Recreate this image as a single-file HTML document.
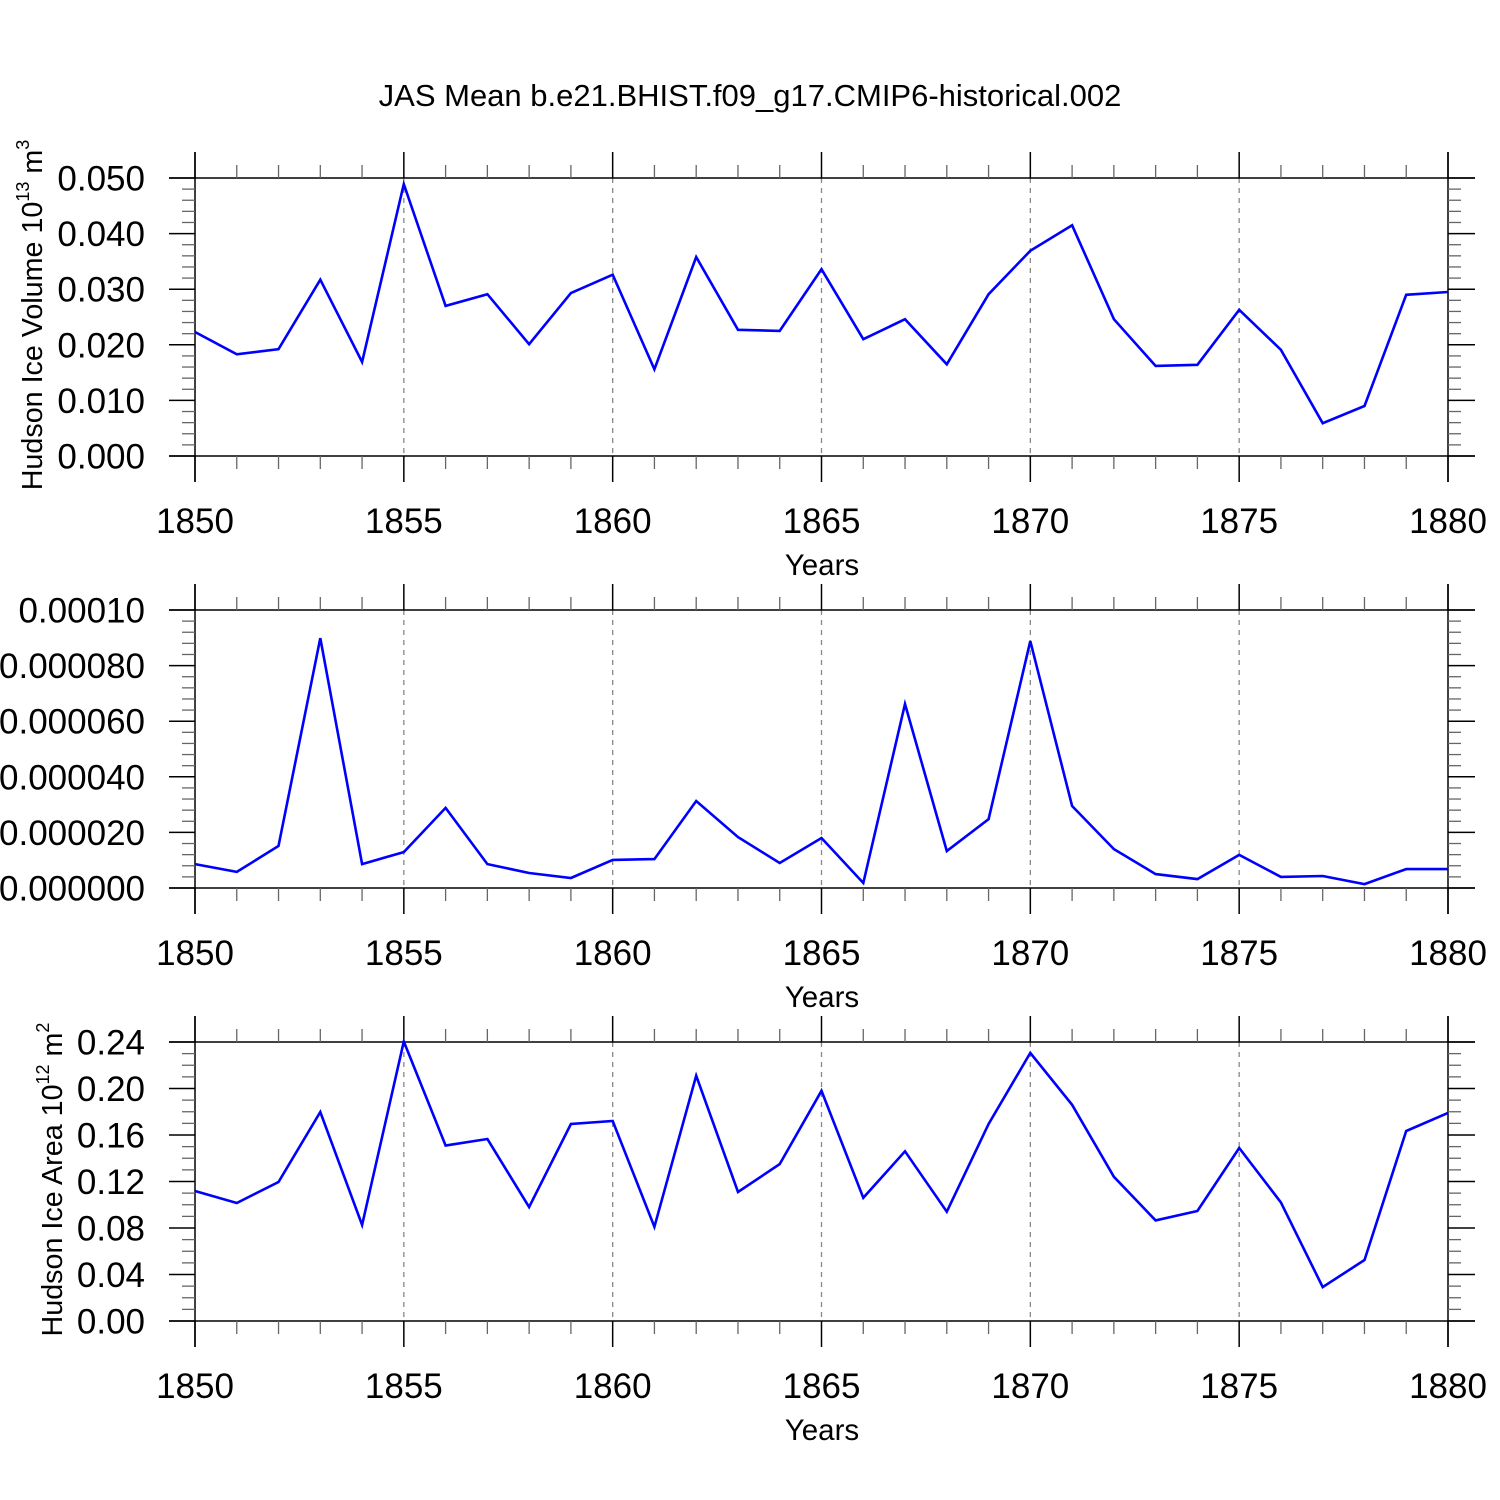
<!DOCTYPE html>
<html><head><meta charset="utf-8"><style>
html,body{margin:0;padding:0;background:#fff;}
svg{display:block;font-family:"Liberation Sans",sans-serif;}
</style></head><body>
<svg id="chart" width="1500" height="1500" viewBox="0 0 1500 1500" xmlns="http://www.w3.org/2000/svg">
<text x="750" y="106" font-size="31" text-anchor="middle">JAS Mean b.e21.BHIST.f09_g17.CMIP6-historical.002</text>
</svg>
<script>
const years = [1850,1851,1852,1853,1854,1855,1856,1857,1858,1859,1860,1861,1862,1863,1864,1865,1866,1867,1868,1869,1870,1871,1872,1873,1874,1875,1876,1877,1878,1879,1880];
const volumeValues = [0.0223,0.0183,0.0192,0.0317,0.0169,0.0489,0.027,0.0291,0.0201,0.0293,0.0326,0.0156,0.0358,0.0227,0.0225,0.0336,0.021,0.0246,0.0165,0.0291,0.0369,0.0415,0.0246,0.0162,0.0164,0.0263,0.0191,0.0059,0.009,0.029,0.0295];
const middleValues = [0.86e-5,0.58e-5,1.51e-5,8.99e-5,0.86e-5,1.29e-5,2.88e-5,0.86e-5,0.54e-5,0.36e-5,1.01e-5,1.04e-5,3.13e-5,1.83e-5,0.9e-5,1.8e-5,0.18e-5,6.62e-5,1.33e-5,2.48e-5,8.88e-5,2.95e-5,1.4e-5,0.5e-5,0.32e-5,1.19e-5,0.4e-5,0.43e-5,0.14e-5,0.68e-5,0.68e-5];
const areaValues = [0.1118,0.1015,0.1196,0.1798,0.0826,0.2404,0.151,0.1566,0.098,0.1695,0.172,0.081,0.211,0.111,0.135,0.198,0.106,0.146,0.094,0.1695,0.2306,0.186,0.124,0.0865,0.0946,0.1488,0.102,0.0292,0.0525,0.1634,0.179];
const xTickLabels = ["1850","1855","1860","1865","1870","1875","1880"];
const volumeTicks = ["0.000","0.010","0.020","0.030","0.040","0.050"];
const middleTicks = ["0.000000","0.000020","0.000040","0.000060","0.000080","0.00010"];
const areaTicks = ["0.00","0.04","0.08","0.12","0.16","0.20","0.24"];

const NS="http://www.w3.org/2000/svg";
const svg=document.getElementById('chart');
function mk(tag,attrs,parent){const e=document.createElementNS(NS,tag);for(const k in attrs)e.setAttribute(k,attrs[k]);(parent||svg).appendChild(e);return e;}
const X0=195,X1=1448;
function xs(yr){return X0+(yr-1850)/(1880-1850)*(X1-X0);}

function panel(name,top,bot,ymax,ticks,minorPer,values,title,titleX){
  const g=mk('g',{});
  
  
  const ys=v=>bot-(v/ymax)*(bot-top);
  for(let yr=1855;yr<1880;yr+=5){
    const l=mk('line',{x1:xs(yr),x2:xs(yr),y1:top,y2:bot,stroke:'#888','stroke-width':1.3,'stroke-dasharray':'5,5'},g);
    
    
  }
  mk('line',{x1:169,x2:1475,y1:top,y2:top,stroke:'#000','stroke-width':1.5},g);
  mk('line',{x1:169,x2:1475,y1:bot,y2:bot,stroke:'#000','stroke-width':1.5},g);
  mk('line',{x1:X0,x2:X0,y1:top-26,y2:bot+26,stroke:'#000','stroke-width':1.5},g);
  mk('line',{x1:X1,x2:X1,y1:top-26,y2:bot+26,stroke:'#000','stroke-width':1.5},g);
  years.forEach(yr=>{
    if((yr-1850)%5===0){
      mk('line',{x1:xs(yr),x2:xs(yr),y1:top-26,y2:top,stroke:'#000','stroke-width':1.5},g);
      mk('line',{x1:xs(yr),x2:xs(yr),y1:bot,y2:bot+26,stroke:'#000','stroke-width':1.5},g);
    } else {
      mk('line',{x1:xs(yr),x2:xs(yr),y1:top-13,y2:top,stroke:'#666','stroke-width':1.3},g);
      mk('line',{x1:xs(yr),x2:xs(yr),y1:bot,y2:bot+13,stroke:'#666','stroke-width':1.3},g);
    }
  });
  xTickLabels.forEach(t=>{
    const tx=mk('text',{x:xs(+t),y:bot+77,'font-size':35,'text-anchor':'middle'},g);
    tx.textContent=t;
    
    
  });
  const yt=mk('text',{x:822,y:bot+119,'font-size':29.5,'text-anchor':'middle'},g);
  yt.textContent='Years';
  
  
  const step=ymax/(ticks.length-1);
  ticks.forEach((t,i)=>{
    const y=ys(i*step);
    mk('line',{x1:169,x2:X0,y1:y,y2:y,stroke:'#000','stroke-width':1.5},g);
    mk('line',{x1:X1,x2:1475,y1:y,y2:y,stroke:'#000','stroke-width':1.5},g);
    const tx=mk('text',{x:145,y:y+12.5,'font-size':35,'text-anchor':'end'},g);
    tx.textContent=t;
    
    
    if(i<ticks.length-1){
      for(let m=1;m<=minorPer;m++){
        const my=ys(i*step+m*step/(minorPer+1));
        mk('line',{x1:X0-13,x2:X0,y1:my,y2:my,stroke:'#666','stroke-width':1.3},g);
        mk('line',{x1:X1,x2:X1+13,y1:my,y2:my,stroke:'#666','stroke-width':1.3},g);
      }
    }
  });
  if(title){
    const cy=(top+bot)/2-2;
    const tt=mk('text',{x:titleX,y:cy,'font-size':28.7,'text-anchor':'middle',transform:`rotate(-90 ${titleX} ${cy})`},g);
    tt.innerHTML=title;
    
    
  }
  const pts=values.map((v,i)=>xs(years[i]).toFixed(1)+','+ys(v).toFixed(1)).join(' ');
  const pl=mk('polyline',{points:pts,fill:'none',stroke:'#0000ff','stroke-width':2.6,'stroke-linejoin':'miter'},g);
  
  
}
panel('volume',178,456,0.05,volumeTicks,4,volumeValues,'Hudson Ice Volume 10<tspan font-size="18" dy="-13">13</tspan><tspan dy="13"> m</tspan><tspan font-size="18" dy="-13">3</tspan>',42);
panel('middle',610,888,0.0001,middleTicks,4,middleValues,null,0);
panel('area',1042,1321,0.24,areaTicks,3,areaValues,'Hudson Ice Area 10<tspan font-size="18" dy="-13">12</tspan><tspan dy="13"> m</tspan><tspan font-size="18" dy="-13">2</tspan>',62);
</script>
</body></html>
